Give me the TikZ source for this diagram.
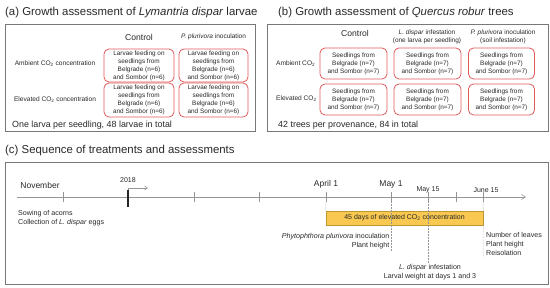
\documentclass[tikz,border=0pt]{standalone}
\usepackage{fontspec}
\setmainfont{Liberation Sans}
\usetikzlibrary{arrows.meta}
\definecolor{boxred}{RGB}{222,90,90}
\definecolor{panelgray}{RGB}{120,120,120}
\definecolor{linegray}{RGB}{150,150,150}
\definecolor{barfill}{RGB}{248,200,80}
\definecolor{barline}{RGB}{190,150,50}
\definecolor{txt}{RGB}{40,40,40}
\tikzset{
  panel/.style={draw=panelgray, line width=0.9pt},
  cell/.style={draw=boxred, line width=0.8pt, rounded corners=5pt, align=center, inner sep=0pt,
    font=\fontsize{6.4}{7.9}\selectfont, text=txt},
  title/.style={anchor=west, font=\fontsize{11.4}{13}\selectfont, inner sep=0pt, text=txt},
  colhead/.style={font=\fontsize{8.6}{10}\selectfont, inner sep=0pt, text=txt},
  colsub/.style={font=\fontsize{6.5}{8.5}\selectfont, inner sep=0pt, align=center, text=txt},
  rowlab/.style={font=\fontsize{6.6}{8}\selectfont, inner sep=0pt, text=txt},
  note/.style={anchor=west, font=\fontsize{8.9}{10}\selectfont, inner sep=0pt, text=txt},
  small/.style={font=\fontsize{7.1}{9}\selectfont, inner sep=0pt, align=left, text=txt},
  month/.style={font=\fontsize{8.5}{10}\selectfont, inner sep=0pt, text=txt},
  monthsm/.style={font=\fontsize{7}{9}\selectfont, inner sep=0pt, text=txt},
  tick/.style={draw=linegray, line width=0.6pt},
  guide/.style={draw=linegray, line width=0.5pt, densely dotted},
}
\begin{document}
\begin{tikzpicture}[x=1pt,y=-1pt]
\useasboundingbox (0,0) rectangle (550,288);

% ---------- Panel (a)
\node[title] (ta) at (5,13) {(a) Growth assessment of \textit{Lymantria dispar} larvae};
\draw[panel] (5,24) rectangle (255,131);
\node[colhead] (ac1) at (139,37) {Control};
\node[colsub] (ac2) at (213.5,37) {\textit{P. plurivora} inoculation};
\node[rowlab] (ar1) at (55,64) {Ambient CO\textsubscript{2} concentration};
\node[rowlab] (ar2) at (55,99.5) {Elevated CO\textsubscript{2} concentration};
\foreach \c/\x/\w in {1/139/70,2/213.5/69}{
  \foreach \r/\y/\h in {1/65.5/33,2/100/34}{
    \node[cell, minimum width=\w pt, minimum height=\h pt] (a\r\c) at (\x,\y)
      {Larvae feeding on\\seedlings from\\Belgrade (n=6)\\and Sombor (n=6)};
  }
}
\node[note] (an) at (12,125) {One larva per seedling, 48 larvae in total};

% ---------- Panel (b)
\node[title] (tb) at (278,13) {(b) Growth assessment of \textit{Quercus robur} trees};
\draw[panel] (267,24) rectangle (548,131);
\node[colhead] (bc1) at (355,33.5) {Control};
\node[colsub] (bc2) at (427,37) {\textit{L. dispar} infestation\\(one larva per seedling)};
\node[colsub] (bc3) at (503,37) {\textit{P. plurivora} inoculation\\(soil infestation)};
\node[rowlab, anchor=west] (br1) at (276,63.5) {Ambient CO\textsubscript{2}};
\node[rowlab, anchor=west] (br2) at (276,99) {Elevated CO\textsubscript{2}};
\foreach \c/\x/\w in {1/353.5/67,2/427.5/67,3/501.5/66}{
  \foreach \r/\y in {1/63.5,2/99.5}{
    \node[cell, minimum width=\w pt, minimum height=31pt] (b\r\c) at (\x,\y)
      {Seedlings from\\Belgrade (n=7)\\and Sombor (n=7)};
  }
}
\node[note] (bn) at (278,125) {42 trees per provenance, 84 in total};

% ---------- Panel (c)
\node[title] (tc) at (5,151) {(c) Sequence of treatments and assessments};
\draw[panel] (5,162) rectangle (548,284);

\coordinate (ls) at (17,197);
\coordinate (le) at (526,197);
\draw[draw=linegray, line width=0.6pt, -{Straight Barb[length=4pt,width=5pt]}] (ls) -- (le);

\foreach \n/\x in {t1/63,t3/194,t4/259,tA/326,tM/391,tM15/428,tX/456,tJ/483}{
  \coordinate (\n) at (\x,197);
  \draw[tick] (\x,192.5) -- (\x,202.5);
}
% 2018 marker
\coordinate (y0) at (128,207);
\coordinate (y1) at (128,188);
\coordinate (y2) at (148,188);
\draw[draw=black!85, line width=1.3pt] (y0) -- (128,190);
\draw[draw=linegray, line width=0.6pt, -{Straight Barb[length=3pt,width=4pt]}] (128,190) -- (y1) -- (y2);
\node[monthsm] (y18) at (128,180.5) {2018};

\node[month] (nov) at (40,185) {November};
\node[small, anchor=north west] (sow) at (18,210) {Sowing of acorns\\Collection of \textit{L. dispar} eggs};

\node[month] (apr) at (326,184) {April 1};
\node[month] (may) at (391,184) {May 1};
\node[monthsm] (may15) at (428,190) {May 15};
\node[monthsm] (jun) at (486,190) {June 15};

% CO2 bar
\node[draw=barline, fill=barfill, line width=0.6pt, minimum width=157pt, minimum height=14pt, inner sep=0pt,
  font=\fontsize{7}{9}\selectfont, text=txt] (bar) at (404.5,218)
  {45 days of elevated CO\textsubscript{2} concentration};

% guides
\draw[guide] (326,202.5) -- (bar.north west);
\draw[guide] (391,202.5) -- (391,252);
\draw[guide] (428,202.5) -- (428,263);
\draw[guide] (483,202.5) -- (bar.north east);
\draw[guide] (bar.south east) -- (483,258);

\node[small, anchor=north east, align=right] (phy) at (389.5,233)
  {\textit{Phytophthora plurivora} inoculation\\Plant height};
\node[small, anchor=north west] (num) at (486,232)
  {Number of leaves\\Plant height\\Reisolation};
\node[small, anchor=north, align=center] (ld) at (430,264)
  {\textit{L. dispar} infestation\\Larval weight at days 1 and 3};
\end{tikzpicture}
\end{document}
